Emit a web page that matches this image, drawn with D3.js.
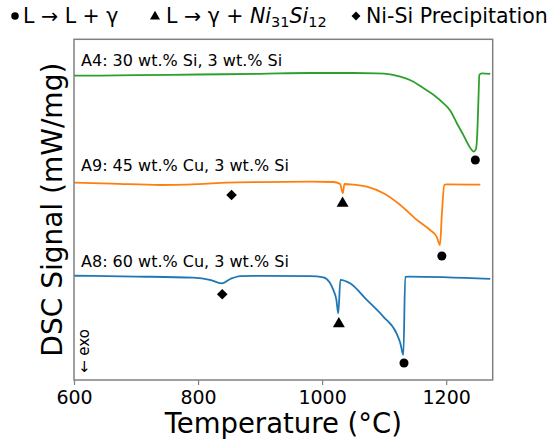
<!DOCTYPE html>
<html>
<head>
<meta charset="utf-8">
<script src="https://cdn.jsdelivr.net/npm/d3@7"></script>
<style>
body { margin: 0; background: #fff; }
text { font-family: "DejaVu Sans", sans-serif; fill: #000; }
</style>
</head>
<body>
<div id="chart"></div>
<script>
//DSC traces, temperature (°C) and signal (mW/mg, offset per alloy)
var tempA4 = [600, 700, 800, 900, 980, 1050, 1088, 1110, 1126, 1145, 1163, 1180, 1195, 1207, 1217, 1226, 1233, 1240, 1244, 1248, 1250, 1252, 1253.5, 1257.5, 1271];
var sigA4 = [-0.727, -0.717, -0.703, -0.689, -0.673, -0.673, -0.679, -0.70, -0.746, -0.832, -0.972, -1.11, -1.27, -1.43, -1.67, -1.87, -2.04, -2.19, -2.24, -2.19, -1.91, -1.21, -0.71, -0.68, -0.69];

var tempA9 = [600, 660, 739, 800, 847, 900, 981, 1018, 1029, 1033.4, 1036, 1050, 1072, 1099, 1126, 1153, 1174, 1185, 1190, 1193, 1197, 1200, 1255];
var sigA9 = [-2.862, -2.88, -2.908, -2.89, -2.862, -2.85, -2.842, -2.848, -2.888, -3.074, -2.888, -2.90, -2.942, -3.074, -3.307, -3.607, -3.806, -3.95, -4.106, -3.5, -2.908, -2.895, -2.902];

var tempA8 = [600, 700, 792, 819, 838, 852, 868, 900, 981, 1002, 1012, 1018, 1023, 1026, 1029.5, 1045, 1072, 1099, 1120, 1126, 1131, 1134, 1140, 1271];
var sigA8 = [-4.719, -4.735, -4.758, -4.80, -4.87, -4.784, -4.725, -4.722, -4.725, -4.75, -4.85, -5.0, -5.2, -5.47, -4.80, -4.87, -5.20, -5.54, -5.87, -6.06, -6.30, -4.74, -4.735, -4.78];

//Transition markers
var liqTemp = [1247, 1193, 1132], liqSig = [-2.41, -4.325, -6.46];
var eutTemp = [1033, 1027], eutSig = [-3.273, -5.68];
var precTemp = [854, 839], precSig = [-3.108, -5.09];

var seriesNames = ["A4: 30 wt.% Si, 3 wt.% Si", "A9: 45 wt.% Cu, 3 wt.% Si", "A8: 60 wt.% Cu, 3 wt.% Si"];
var seriesColors = ["#2ca02c", "#ff7f0e", "#1f77b4"];
var xTicks = [600, 800, 1000, 1200];

//SVG sizes and margins
var width = 549, height = 443;
var margin = { top: 39.3, right: 56.3, bottom: 63, left: 74 };

var svg = d3.select("#chart").append("svg")
    .attr("width", width)
    .attr("height", height);

var x = d3.scaleLinear().domain([600, 1275]).range([margin.left, width - margin.right]);
var y = d3.scaleLinear().domain([-6.8, 0]).range([height - margin.bottom, margin.top]);

var line = d3.line()
    .x(function (d) { return x(d[0]); })
    .y(function (d) { return y(d[1]); })
    .curve(d3.curveMonotoneX);

var traces = [[tempA4, sigA4], [tempA9, sigA9], [tempA8, sigA8]];
traces.forEach(function (t, i) {
    svg.append("path")
        .datum(d3.zip(t[0], t[1]))
        .attr("d", line)
        .attr("fill", "none")
        .attr("stroke", seriesColors[i])
        .attr("stroke-width", 1.8);
});

//Curve labels
var labelY = [66, 171, 267];
seriesNames.forEach(function (n, i) {
    svg.append("text")
        .attr("x", 81)
        .attr("y", labelY[i])
        .style("font-size", "16px")
        .text(n);
});

//Markers
var sym = function (type, size) { return d3.symbol().type(type).size(size)(); };
var at = function (d) { return "translate(" + x(d[0]) + "," + y(d[1]) + ")"; };
svg.selectAll(".liq").data(d3.zip(liqTemp, liqSig)).enter().append("path")
    .attr("d", sym(d3.symbolCircle, 64))
    .attr("transform", at);
svg.selectAll(".eut").data(d3.zip(eutTemp, eutSig)).enter().append("path")
    .attr("d", sym(d3.symbolTriangle, 62))
    .attr("transform", at);
svg.selectAll(".prec").data(d3.zip(precTemp, precSig)).enter().append("path")
    .attr("d", sym(d3.symbolSquare, 56))
    .attr("transform", function (d) { return at(d) + " rotate(45)"; });

//Frame
svg.append("rect")
    .attr("x", margin.left).attr("y", margin.top)
    .attr("width", width - margin.left - margin.right)
    .attr("height", height - margin.top - margin.bottom)
    .attr("fill", "none").attr("stroke", "#808080").attr("stroke-width", 1.5);

//X axis
var xAxis = svg.append("g")
    .attr("transform", "translate(0," + (height - margin.bottom) + ")")
    .call(d3.axisBottom(x).tickValues(xTicks).tickFormat(d3.format("d")).tickSize(5).tickPadding(6));
xAxis.select(".domain").remove();
xAxis.selectAll("line").attr("stroke", "#808080").attr("stroke-width", 1.2);
xAxis.selectAll("text").style("font-size", "19px").style("font-family", "DejaVu Sans");

svg.append("text")
    .attr("x", (margin.left + width - margin.right) / 2)
    .attr("y", 433)
    .attr("text-anchor", "middle")
    .style("font-size", "27.5px")
    .text("Temperature (°C)");

svg.append("text")
    .attr("transform", "translate(62," + ((margin.top + height - margin.bottom) / 2) + ") rotate(-90)")
    .attr("text-anchor", "middle")
    .style("font-size", "28px")
    .text("DSC Signal (mW/mg)");

svg.append("text")
    .attr("transform", "translate(89,373) rotate(-90)")
    .style("font-size", "15px")
    .text("← exo");

//Legend
var leg = svg.append("g");
var legFont = "20.5px";
leg.append("path").attr("d", sym(d3.symbolCircle, 44)).attr("transform", "translate(15,16)");
leg.append("text").attr("x", 23).attr("y", 23).style("font-size", legFont).text("L → L + γ");
leg.append("path").attr("d", sym(d3.symbolTriangle, 44)).attr("transform", "translate(155,16.5)");
var t2 = leg.append("text").attr("x", 166).attr("y", 23).style("font-size", legFont);
t2.append("tspan").text("L → γ + ");
t2.append("tspan").style("font-style", "italic").text("Ni");
t2.append("tspan").attr("dy", 4).style("font-size", "14.5px").text("31");
t2.append("tspan").attr("dy", -4).style("font-style", "italic").text("Si");
t2.append("tspan").attr("dy", 4).style("font-size", "14.5px").text("12");
leg.append("path").attr("d", sym(d3.symbolSquare, 40)).attr("transform", "translate(356,16) rotate(45)");
leg.append("text").attr("x", 366).attr("y", 23).style("font-size", legFont).text("Ni-Si Precipitation");
</script>
</body>
</html>
